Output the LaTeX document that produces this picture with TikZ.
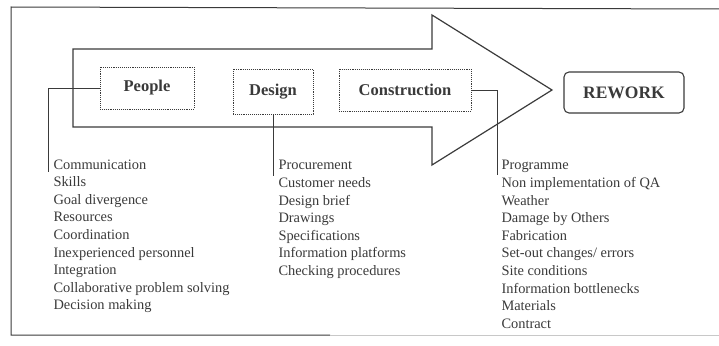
\documentclass[tikz,border=0pt]{standalone}
\usepackage{fontspec}
\setmainfont{Liberation Serif}
\definecolor{ink}{HTML}{3A3A3A}
\definecolor{faint}{HTML}{C8C8C8}
\begin{document}
\begin{tikzpicture}[x=1pt,y=-1pt,
  line width=1pt, draw=ink,
  cause/.style={draw=ink, densely dotted, line width=0.9pt, inner sep=0pt,
    font=\fontsize{16.5}{18}\selectfont\bfseries, text=ink},
  result/.style={draw=ink, rounded corners=5pt, line width=1.1pt, inner sep=0pt,
    minimum width=120pt, minimum height=41pt,
    font=\fontsize{17.5}{19}\selectfont\bfseries, text=ink},
  itemlist/.style={anchor=north west, inner sep=0pt, align=left, text=ink,
    font=\fontsize{14.4}{17.6}\selectfont},
  link/.style={draw=ink, line width=1pt}]
\useasboundingbox (0,0) rectangle (719,345);
% frame
\draw[ink, line width=1pt] (719,9) -- (11,7) -- (11,335) -- (330,335);
\draw[faint, line width=1pt] (330,335) -- (719,335);
% big arrow
\draw[ink, line width=1.2pt, line join=miter]
  (73,49) -- (432,49) -- (432,15) -- (552,90) -- (432,165) -- (432,127) -- (73,127) -- cycle;
% boxes
\node[cause, minimum width=94pt, minimum height=42pt] (people) at (147,88) {People};
\node[cause, minimum width=80pt, minimum height=45pt] (design) at (273,91.5) {Design};
\node[cause, minimum width=132pt, minimum height=42pt] (construction) at (405,90) {Construction};
\node[result] (rework) at (624,92.5) {REWORK};
% list anchors
\coordinate (pl) at (48,172);
\coordinate (dl) at (273,176);
\coordinate (cl) at (497,175);
\draw[link] (people.west) -| (pl);
\draw[link] (design.south) -- (dl);
\draw[link] (construction.east) -| (cl);
% lists
\node[itemlist] (peoplelist) at (53,159) {Communication\\Skills\\Goal divergence\\Resources\\Coordination\\Inexperienced personnel\\Integration\\Collaborative problem solving\\Decision making};
\node[itemlist] (designlist) at (278,160) {Procurement\\Customer needs\\Design brief\\Drawings\\Specifications\\Information platforms\\Checking procedures};
\node[itemlist] (conslist) at (501,160) {Programme\\Non implementation of QA\\Weather\\Damage by Others\\Fabrication\\Set-out changes/ errors\\Site conditions\\Information bottlenecks\\Materials\\Contract};
\end{tikzpicture}
\end{document}
